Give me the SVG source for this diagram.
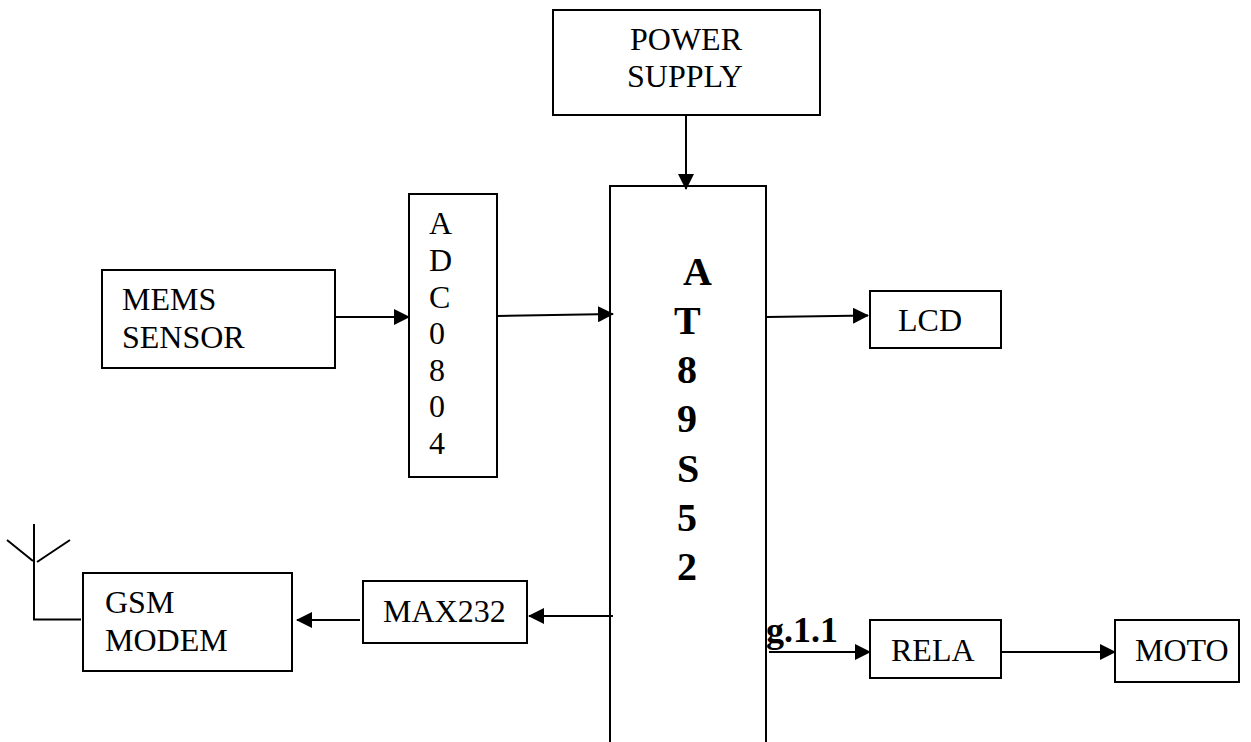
<svg xmlns="http://www.w3.org/2000/svg" width="1251" height="742" viewBox="0 0 1251 742">
<style>
.b{fill:#fff;stroke:#000;stroke-width:2}
.l{fill:none;stroke:#000;stroke-width:2}
text{font-family:"Liberation Serif",serif;font-size:32px;fill:#000}
.m{font-size:40px;font-weight:bold}
.f{font-size:36px;font-weight:bold}
</style>
<defs><marker id="a" markerUnits="userSpaceOnUse" markerWidth="16" markerHeight="16" refX="15" refY="8" orient="auto"><path d="M0 0L16 8L0 16Z" fill="#000"/></marker></defs>
<rect width="1251" height="742" fill="#fff"/>
<g id="power"><rect class="b" x="553" y="10" width="267" height="105"/><text x="630" y="50">POWER</text><text x="627" y="87">SUPPLY</text></g>
<g id="mems"><rect class="b" x="102" y="270" width="233" height="98"/><text x="122" y="310">MEMS</text><text x="122" y="348">SENSOR</text></g>
<g id="adc"><rect class="b" x="409" y="194" width="88" height="283"/>
<text x="429" y="234">A</text><text x="429" y="271">D</text><text x="429" y="308">C</text><text x="429" y="344">0</text><text x="429" y="381">8</text><text x="429" y="417">0</text><text x="429" y="454">4</text></g>
<g id="mcu"><path class="l" d="M610 742V186H766V742"/>
<text class="m" x="683" y="285">A</text><text class="m" x="674" y="334">T</text><text class="m" x="677" y="383">8</text><text class="m" x="677" y="432">9</text><text class="m" x="677" y="482">S</text><text class="m" x="677" y="531">5</text><text class="m" x="677" y="580">2</text></g>
<g id="lcd"><rect class="b" x="870" y="291" width="131" height="57"/><text x="898" y="331">LCD</text></g>
<g id="gsm"><rect class="b" x="83" y="573" width="209" height="98"/><text x="105" y="613">GSM</text><text x="105" y="651">MODEM</text></g>
<g id="max"><rect class="b" x="363" y="581" width="164" height="62"/><text x="383" y="622">MAX232</text></g>
<g id="relay"><rect class="b" x="870" y="620" width="131" height="58"/><text x="891" y="661">RELA</text></g>
<g id="motor"><rect class="b" x="1115" y="620" width="124" height="62"/><text x="1135" y="661">MOTO</text></g>
<g id="connectors">
<path class="l" d="M686 115V189" marker-end="url(#a)"/>
<path class="l" d="M336 317H409" marker-end="url(#a)"/>
<path class="l" d="M497 316L613 314" marker-end="url(#a)"/>
<path class="l" d="M767 317L868 315.5" marker-end="url(#a)"/>
<path class="l" d="M613 616H529" marker-end="url(#a)"/>
<path class="l" d="M360 620H297" marker-end="url(#a)"/>
<path class="l" d="M769 652H870" marker-end="url(#a)"/>
<path class="l" d="M1001 652H1115" marker-end="url(#a)"/>
<path class="l" d="M81 619.5H34V524M7 540L33 561M37 562L70 540"/>
</g>
<text class="f" x="766" y="642">g.1.1</text>
</svg>
